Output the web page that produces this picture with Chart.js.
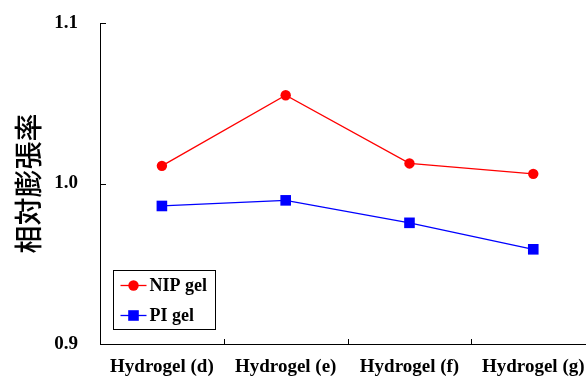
<!DOCTYPE html>
<html lang="ja">

<head>
    <meta charset="UTF-8" />
    <title>相対膨張率</title>
    <script src="https://cdn.jsdelivr.net/npm/chart.js"></script>
    <style>
        body {
            margin: 0;
            background: #fff;
        }

        #wrap {
            width: 586px;
            height: 381px;
        }
    </style>
</head>

<body>
    <div id="wrap"><canvas id="swellChart"></canvas></div>

    <script>
        const categories = ['Hydrogel (d)', 'Hydrogel (e)', 'Hydrogel (f)', 'Hydrogel (g)'];
        const nipGel = [1.011, 1.055, 1.0125, 1.006];
        const piGel = [0.986, 0.9895, 0.9755, 0.959];
        const yTicks = [0.9, 1.0, 1.1];

        const serif = '"Liberation Serif", "Times New Roman", serif';

        // inward tick marks, y title and boxed legend inside the plot
        const decorations = {
            id: 'decorations',
            afterDraw(chart) {
                const { ctx, chartArea: area, scales } = chart;
                ctx.save();
                ctx.strokeStyle = '#000';
                ctx.lineWidth = 1;

                // y ticks point into the plot
                yTicks.forEach(v => {
                    const y = Math.round(scales.y.getPixelForValue(v)) + 0.5;
                    ctx.beginPath();
                    ctx.moveTo(area.left, y);
                    ctx.lineTo(area.left + 6, y);
                    ctx.stroke();
                });
                // x ticks sit between categories, pointing up
                for (let i = 0; i < categories.length - 1; i++) {
                    const x = Math.round(scales.x.getPixelForValue(i + 0.5)) + 0.5;
                    ctx.beginPath();
                    ctx.moveTo(x, area.bottom);
                    ctx.lineTo(x, area.bottom - 5);
                    ctx.stroke();
                }

                // axis title
                ctx.save();
                ctx.translate(28, (area.top + area.bottom) / 2);
                ctx.rotate(-Math.PI / 2);
                ctx.fillStyle = '#000';
                ctx.font = '500 28px "Noto Sans CJK JP", sans-serif';
                ctx.textAlign = 'center';
                ctx.textBaseline = 'middle';
                ctx.fillText('相対膨張率', 0, 0);
                ctx.restore();

                // legend box
                const bx = area.left + 13.5, by = area.bottom - 73.5;
                ctx.strokeRect(bx, by, 102, 59);
                ctx.font = 'bold 18px ' + serif;
                ctx.textBaseline = 'middle';
                ctx.textAlign = 'left';
                chart.data.datasets.forEach((ds, i) => {
                    const ry = by + 15 + i * 30;
                    ctx.strokeStyle = ds.borderColor;
                    ctx.lineWidth = ds.borderWidth;
                    ctx.beginPath();
                    ctx.moveTo(bx + 7, ry);
                    ctx.lineTo(bx + 33, ry);
                    ctx.stroke();
                    ctx.fillStyle = ds.backgroundColor;
                    Chart.helpers.drawPoint(ctx, {
                        pointStyle: ds.pointStyle,
                        radius: ds.pointRadius,
                        rotation: 0,
                        borderWidth: 0
                    }, bx + 20, ry);
                    ctx.fillStyle = '#000';
                    ctx.fillText(ds.label, bx + 36, ry + 1);
                });
                ctx.restore();
            }
        };

        new Chart(document.getElementById('swellChart'), {
            type: 'line',
            data: {
                datasets: [{
                    label: 'NIP gel',
                    data: nipGel.map((v, i) => ({ x: i, y: v })),
                    borderColor: '#ff0000',
                    backgroundColor: '#ff0000',
                    borderWidth: 1.3,
                    pointStyle: 'circle',
                    pointRadius: 5.2,
                    pointBorderWidth: 0,
                    tension: 0
                }, {
                    label: 'PI gel',
                    data: piGel.map((v, i) => ({ x: i, y: v })),
                    borderColor: '#0000ff',
                    backgroundColor: '#0000ff',
                    borderWidth: 1.3,
                    pointStyle: 'rect',
                    pointRadius: 7.5,
                    pointBorderWidth: 0,
                    tension: 0
                }]
            },
            options: {
                responsive: true,
                maintainAspectRatio: false,
                animation: false,
                layout: {
                    autoPadding: false,
                    padding: { top: 23, right: 0, left: 0, bottom: 0 }
                },
                plugins: {
                    legend: { display: false },
                    tooltip: { enabled: false }
                },
                scales: {
                    x: {
                        type: 'linear',
                        min: -0.5,
                        max: 3.426,
                        afterBuildTicks: s => { s.ticks = categories.map((c, i) => ({ value: i })); },
                        afterFit: s => {
                            s.height = 37;
                            s.paddingLeft = 0;
                            s.paddingRight = 0;
                        },
                        grid: { display: false, drawTicks: false },
                        border: { display: true, color: '#000', width: 1 },
                        ticks: {
                            padding: 12,
                            maxRotation: 0,
                            autoSkip: false,
                            color: '#000',
                            font: { family: serif, size: 19, weight: 'bold' },
                            callback: v => categories[v]
                        }
                    },
                    y: {
                        min: 0.9,
                        max: 1.1,
                        afterBuildTicks: s => { s.ticks = yTicks.map(v => ({ value: v })); },
                        afterFit: s => {
                            s.width = 100;
                            s.paddingTop = 0;
                            s.paddingBottom = 0;
                        },
                        grid: { display: false, drawTicks: false },
                        border: { display: true, color: '#000', width: 1 },
                        ticks: {
                            padding: 22,
                            color: '#000',
                            font: { family: serif, size: 19, weight: 'bold' },
                            callback: v => v.toFixed(1)
                        }
                    }
                }
            },
            plugins: [decorations]
        });
    </script>
</body>

</html>
